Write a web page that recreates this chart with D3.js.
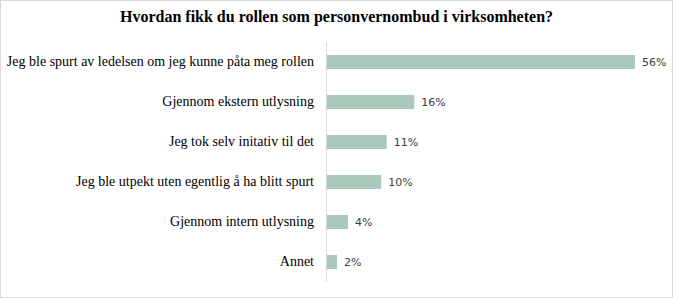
<!DOCTYPE html>
<html>
<head>
<meta charset="utf-8">
<script src="https://cdn.jsdelivr.net/npm/d3@7"></script>
<style>
  body { margin: 0; background: #fff; }
</style>
</head>
<body>
<div id="chart"></div>
<script>
const categories = [
  'Jeg ble spurt av ledelsen om jeg kunne påta meg rollen',
  'Gjennom ekstern utlysning',
  'Jeg tok selv initativ til det',
  'Jeg ble utpekt uten egentlig å ha blitt spurt',
  'Gjennom intern utlysning',
  'Annet'
];
const values = [56, 16, 11, 10, 4, 2];
const valueLabels = ['56%', '16%', '11%', '10%', '4%', '2%'];

const width = 673, height = 298;
const margin = { top: 42, right: 16, bottom: 16, left: 326 };

const svg = d3.select('#chart')
  .append('svg')
  .attr('width', width)
  .attr('height', height);

// chart border
svg.append('rect')
  .attr('x', 0.5).attr('y', 0.5)
  .attr('width', width - 1).attr('height', height - 1)
  .attr('fill', '#fff')
  .attr('stroke', '#d9d9d9');

svg.append('text')
  .attr('x', width / 2)
  .attr('y', 22)
  .attr('text-anchor', 'middle')
  .style('font-family', '"Liberation Serif", serif')
  .style('font-weight', 'bold')
  .style('font-size', '16px')
  .style('fill', '#000')
  .text('Hvordan fikk du rollen som personvernombud i virksomheten?');

const x = d3.scaleLinear()
  .domain([0, 60])
  .range([margin.left, margin.left + 331]);

const y = d3.scaleBand()
  .domain(categories)
  .range([margin.top, height - margin.bottom])
  .paddingInner(0.65)
  .paddingOuter(0.325);

svg.selectAll('.bar')
  .data(values)
  .enter()
  .append('rect')
  .attr('class', 'bar')
  .attr('x', x(0))
  .attr('y', (d, i) => y(categories[i]))
  .attr('width', d => x(d) - x(0))
  .attr('height', y.bandwidth())
  .attr('fill', '#aac9ba');

// category axis
const yAxis = svg.append('g')
  .attr('transform', `translate(${x(0)},0)`)
  .call(d3.axisLeft(y).tickSize(0).tickPadding(12));

yAxis.select('.domain')
  .attr('stroke', '#d9d9d9')
  .attr('d', `M0.5,${margin.top}V${height - margin.bottom}`);

yAxis.selectAll('text')
  .style('font-family', '"Liberation Serif", serif')
  .style('font-size', '14px')
  .style('fill', '#000');

svg.selectAll('.val')
  .data(values)
  .enter()
  .append('text')
  .attr('class', 'val')
  .attr('x', d => x(d) + 7)
  .attr('y', (d, i) => y(categories[i]) + y.bandwidth() / 2)
  .attr('dy', '0.35em')
  .style('font-family', '"DejaVu Sans", sans-serif')
  .style('font-size', '11px')
  .style('fill', '#404040')
  .text((d, i) => valueLabels[i]);
</script>
</body>
</html>
